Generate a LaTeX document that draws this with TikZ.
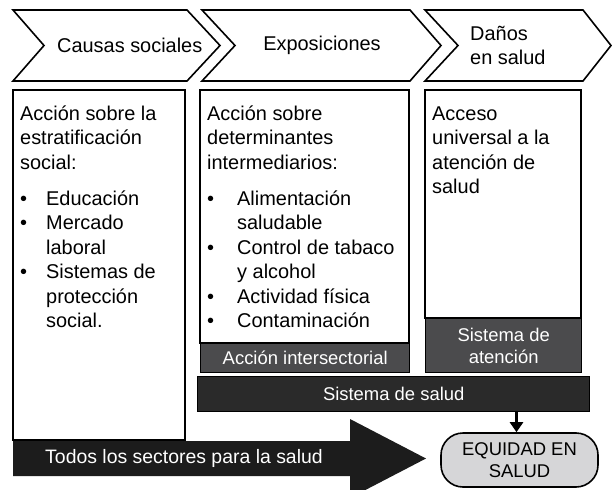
\documentclass[tikz,border=0pt]{standalone}
\usepackage{fontspec}
\setmainfont{Liberation Sans}
\usetikzlibrary{arrows.meta}
\definecolor{bandgray}{HTML}{4B4B4D}
\definecolor{darkgray}{HTML}{2A2A2A}
\definecolor{arrowblack}{HTML}{1C1C1C}
\definecolor{pillgray}{HTML}{D6D6D8}
\newcommand\bxfont{\fontsize{20}{24.5}\selectfont}
\newcommand\bdfont{\fontsize{18.5}{22}\selectfont}
\begin{document}
\begin{tikzpicture}[x=1bp,y=-1bp,line join=miter,
  outl/.style={draw=black,line width=1.6bp},
  chev/.style={outl,fill=white},
  hdr/.style={font=\bxfont,inner sep=0,align=left},
  boxtxt/.style={font=\bxfont,inner sep=0,anchor=north west,align=left},
  bandbox/.style={draw=black,line width=1.4bp,fill=bandgray,text=white,font=\bdfont,inner sep=0,anchor=north west,align=center},
  darkbox/.style={draw=black,line width=1.4bp,fill=darkgray,text=white,font=\bdfont,inner sep=0,anchor=north west,align=center},
  pillbox/.style={draw=black,line width=1.6bp,fill=pillgray,font=\bdfont,inner sep=0,align=center,rounded corners=22bp}]
\useasboundingbox (0,0) rectangle (612,490);

% chevrons
\draw[chev] (13,10) -- (187,10) -- (220,45.5) -- (187,81) -- (13,81) -- (44,45.5) -- cycle;
\draw[chev] (202,10) -- (410,10) -- (441,45.5) -- (410,81) -- (202,81) -- (235,45.5) -- cycle;
\draw[chev] (425,10) -- (583,10) -- (611,45.5) -- (583,81) -- (425,81) -- (458,45.5) -- cycle;
\node[hdr,anchor=west] (h1) at (57,45.5) {Causas sociales};
\node[hdr] (h2) at (322,45.5) {Exposiciones};
\node[hdr,anchor=west] (h3) at (470,45.5) {Daños\\en salud};

% column boxes
\draw[outl] (13,90) rectangle (185,440);
\draw[outl] (200,90) rectangle (409,343);
\draw[outl] (425,90) rectangle (581,318);

\node[boxtxt] (t1) at (20,103) {%
\begin{tabular}{@{}p{26bp}@{}l@{}}
\multicolumn{2}{@{}l@{}}{Acción sobre la}\\
\multicolumn{2}{@{}l@{}}{estratificación}\\
\multicolumn{2}{@{}l@{}}{social:}\\[12bp]
• & Educación\\
• & Mercado\\
  & laboral\\
• & Sistemas de\\
  & protección\\
  & social.
\end{tabular}};

\node[boxtxt] (t2) at (207,103) {%
\begin{tabular}{@{}p{30bp}@{}l@{}}
\multicolumn{2}{@{}l@{}}{Acción sobre}\\
\multicolumn{2}{@{}l@{}}{determinantes}\\
\multicolumn{2}{@{}l@{}}{intermediarios:}\\[12bp]
• & Alimentación\\
  & saludable\\
• & Control de tabaco\\
  & y alcohol\\
• & Actividad física\\
• & Contaminación
\end{tabular}};

\node[boxtxt] (t3) at (432,103) {%
\begin{tabular}{@{}l@{}}
Acceso\\
universal a la\\
atención de\\
salud
\end{tabular}};

% bands
\node[bandbox,minimum width=209bp,minimum height=29bp] (inter) at (200,343) {Acción intersectorial};
\node[bandbox,minimum width=156bp,minimum height=54bp] (aten) at (425,318) {Sistema de\\atención};
\node[darkbox,minimum width=392bp,minimum height=35bp] (ssalud) at (197,376) {Sistema de salud};

% big arrow
\fill[arrowblack] (13,441) -- (350,441) -- (350,419) -- (426,458.5) -- (350,498) -- (350,476) -- (13,476) -- cycle;
\node[text=white,font=\fontsize{19.5}{22}\selectfont,inner sep=0] (todos) at (184,458.5) {Todos los sectores para la salud};

% equity pill
\node[pillbox,minimum width=157bp,minimum height=54bp] (equidad) at (519.5,460) {EQUIDAD EN\\SALUD};
\draw[line width=3bp,-{Triangle[width=13bp,length=10bp]}] ([xshift=-3bp]equidad.north |- ssalud.south) -- ([xshift=-3bp]equidad.north);
\end{tikzpicture}
\end{document}
